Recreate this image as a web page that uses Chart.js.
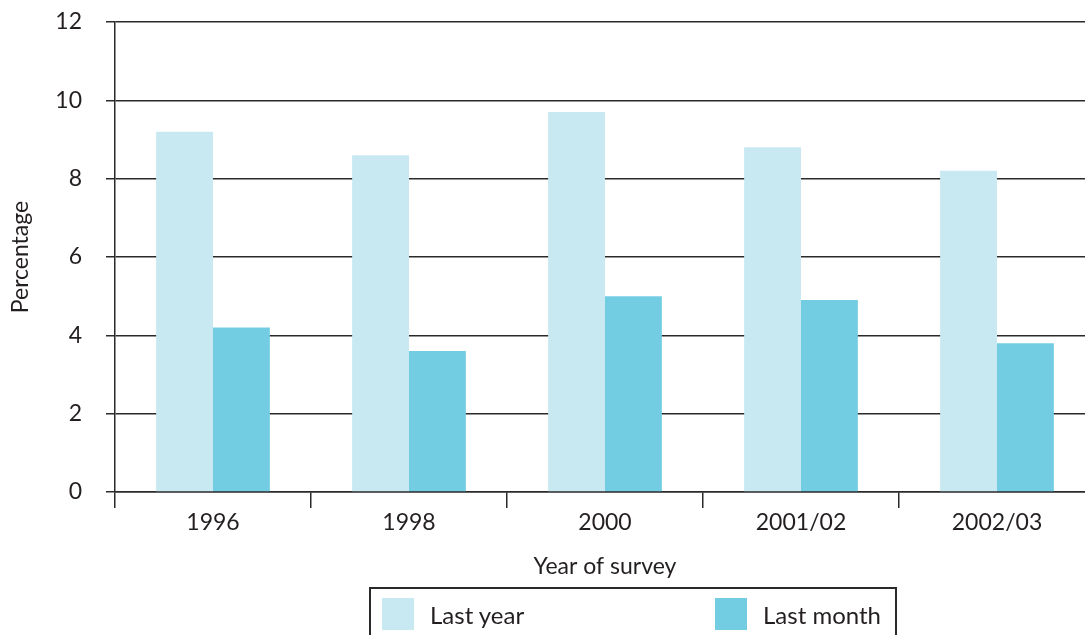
<!DOCTYPE html>
<html>
<head>
<meta charset="utf-8">
<script src="https://cdn.jsdelivr.net/npm/chart.js@4.4.0/dist/chart.umd.min.js"></script>
<style>
  html, body { margin: 0; padding: 0; background: #fff; overflow: hidden; }
  #wrap { position: relative; width: 1095px; height: 635px; }
  #legend {
    position: absolute; left: 369px; top: 587px; width: 528px; height: 60px;
    border: 2px solid #2a2a2a; box-sizing: border-box;
    font-family: Lato, "Open Sans", sans-serif; font-size: 24px; color: #231f20;
  }
  .item { position: absolute; top: 9px; display: flex; align-items: center; }
  .sw { width: 32px; height: 32px; margin-right: 16px; }
</style>
</head>
<body>
<div id="wrap">
  <canvas id="chart" width="1095" height="635"></canvas>
  <div id="legend"></div>
</div>
<script>
const categories = ["1996", "1998", "2000", "2001/02", "2002/03"];
const lastYear = [9.2, 8.6, 9.7, 8.8, 8.2];
const lastMonth = [4.2, 3.6, 5.0, 4.9, 3.8];
const seriesNames = ["Last year", "Last month"];
const seriesColors = ["#c8e9f1", "#72cde3"];

const font = { family: "Lato, 'Open Sans', sans-serif", size: 23 };
const ink = "#231f20";
const line = "#2a2a2a";

const chart = new Chart(document.getElementById("chart"), {
  type: "bar",
  data: {
    labels: categories,
    datasets: [
      { label: seriesNames[0], data: lastYear, backgroundColor: seriesColors[0] },
      { label: seriesNames[1], data: lastMonth, backgroundColor: seriesColors[1] },
    ],
  },
  options: {
    responsive: false,
    animation: false,
    categoryPercentage: 0.58,
    barPercentage: 1,
    layout: { padding: { top: 22, bottom: 53, left: 0, right: 0 } },
    plugins: { legend: { display: false }, tooltip: { enabled: false } },
    scales: {
      x: {
        afterFit: (s) => { s.height = 90; },
        grid: { drawOnChartArea: false, tickLength: 16, color: line, lineWidth: 1.5, offset: true },
        border: { color: line, width: 1.5 },
        ticks: { color: ink, font: font, padding: 1 },
        title: { display: true, text: "Year of survey", color: ink, font: font, padding: { top: 4, bottom: 2 } },
      },
      y: {
        min: 0,
        max: 12,
        // fixed axis width; drop the label padding so the plot top sits at 22px
        afterFit: (s) => { s.width = 115; s.paddingTop = 0; s.paddingBottom = 0; },
        grid: { color: line, lineWidth: 1.5, tickLength: 9 },
        border: { color: line, width: 1.5 },
        ticks: { stepSize: 2, color: ink, font: font, padding: 24 },
        title: { display: true, text: "Percentage", color: ink, font: font, padding: { top: 7, bottom: 4 } },
      },
    },
  },
});

// legend box below the chart, built from the datasets
const legend = document.getElementById("legend");
const itemLeft = [11, 344];
chart.data.datasets.forEach((ds, i) => {
  const item = document.createElement("div");
  item.className = "item";
  item.style.left = itemLeft[i] + "px";
  const sw = document.createElement("span");
  sw.className = "sw";
  sw.style.background = ds.backgroundColor;
  const txt = document.createElement("span");
  txt.textContent = ds.label;
  item.appendChild(sw);
  item.appendChild(txt);
  legend.appendChild(item);
});
</script>
</body>
</html>
